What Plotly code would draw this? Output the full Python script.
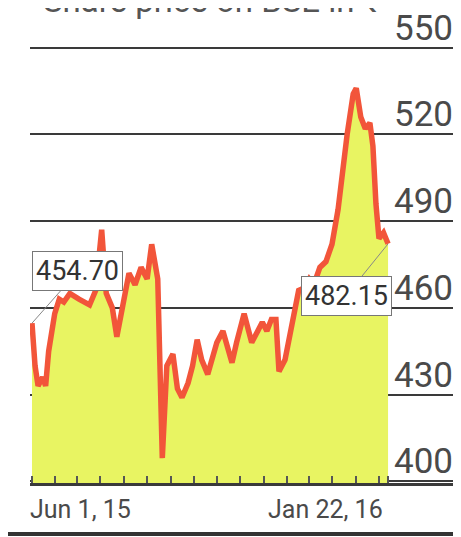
import plotly.graph_objects as go

# ---- data ----
dates = [
    "2015-06-01", "2015-06-03", "2015-06-05", "2015-06-08", "2015-06-10", "2015-06-12",
    "2015-06-16", "2015-06-19", "2015-06-22", "2015-06-26", "2015-07-02", "2015-07-09",
    "2015-07-13", "2015-07-17", "2015-07-20", "2015-07-24", "2015-07-27", "2015-07-31",
    "2015-08-04", "2015-08-08", "2015-08-12", "2015-08-16", "2015-08-19", "2015-08-23",
    "2015-08-26", "2015-08-29", "2015-09-02", "2015-09-05", "2015-09-08", "2015-09-12",
    "2015-09-15", "2015-09-18", "2015-09-21", "2015-09-25", "2015-09-28", "2015-10-01",
    "2015-10-05", "2015-10-08", "2015-10-11", "2015-10-14", "2015-10-19", "2015-10-22",
    "2015-10-24", "2015-10-28", "2015-10-31", "2015-11-03", "2015-11-06", "2015-11-09",
    "2015-11-11", "2015-11-15", "2015-11-18", "2015-11-21", "2015-11-24", "2015-11-28",
    "2015-12-01", "2015-12-04", "2015-12-08", "2015-12-12", "2015-12-16", "2015-12-20",
    "2015-12-23", "2015-12-26", "2015-12-30", "2016-01-01", "2016-01-04", "2016-01-07",
    "2016-01-10", "2016-01-12", "2016-01-14", "2016-01-16", "2016-01-19", "2016-01-22",
]
prices = [
    454.70, 440, 433, 436, 433, 445,
    458, 463, 462, 465, 463, 461,
    466, 487, 465, 460, 450, 462,
    472, 468, 474, 470, 482, 470,
    408, 440, 444, 432, 429, 434,
    440, 449, 442, 437, 442, 448,
    452, 446, 441, 448, 458, 452,
    448, 452, 455, 452, 456, 456,
    438, 442, 450, 458, 466, 467,
    470, 468, 474, 476, 482, 494,
    508, 520, 534, 536, 526, 522,
    524, 516, 496, 484, 486, 482.15,
]
y_ticks = [400, 430, 460, 490, 520, 550]
x_minor_ticks = [
    "2015-06-01", "2015-06-16", "2015-07-01", "2015-07-16", "2015-08-01", "2015-08-16",
    "2015-09-01", "2015-09-16", "2015-10-01", "2015-10-16", "2015-11-01", "2015-11-16",
    "2015-12-01", "2015-12-16", "2016-01-01", "2016-01-16", "2016-01-22",
]
x_labels = ["Jun 1, 15", "Jan 22, 16"]
title_text = "Share price on BSE in ₹"

FONT = "Roboto, sans-serif"
LINE = "#f2553a"
FILL = "#e8f462"
GRID = "#3a3a3a"
TXT = "#4a4a4a"

fig = go.Figure()
fig.add_trace(go.Scatter(
    x=dates, y=prices, mode="lines",
    line=dict(color=LINE, width=5.5),
    fill="tozeroy", fillcolor=FILL,
    hoverinfo="skip",
))

fig.update_layout(
    width=453, height=529,
    margin=dict(l=22, r=4, t=38, b=54, autoexpand=False),
    paper_bgcolor="white", plot_bgcolor="white",
    showlegend=False,
    font=dict(family=FONT, color=TXT),
)
fig.update_xaxes(
    type="date", automargin=False,
    range=["2015-05-30 16:24", "2016-03-07 12:00"],
    showgrid=False, zeroline=False,
    showticklabels=False,
    showline=True, linecolor=GRID, linewidth=3,
    ticks="",
    minor=dict(tickvals=x_minor_ticks, ticks="inside", ticklen=7,
               tickwidth=2, tickcolor="#555", showgrid=False),
)
fig.update_yaxes(
    automargin=False,
    range=[399.4, 550.6],
    tickvals=y_ticks,
    showticklabels=False,
    showgrid=True, gridcolor=GRID, gridwidth=2,
    zeroline=False, showline=False, ticks="",
)

# y labels sitting on top of the gridlines, right-aligned
for v in y_ticks:
    fig.add_annotation(x=0.995, y=v, xref="paper", yref="y", text=str(v),
                       showarrow=False, xanchor="right", yanchor="bottom", yshift=-3,
                       font=dict(family=FONT, size=35, color=TXT))

# x labels
fig.add_annotation(x=x_minor_ticks[0], y=0, xref="x", yref="paper",
                   text=x_labels[0], showarrow=False, xanchor="left", yanchor="top",
                   xshift=-4, yshift=-10, font=dict(family=FONT, size=25, color=TXT))
fig.add_annotation(x=x_minor_ticks[-1], y=0, xref="x", yref="paper",
                   text=x_labels[1], showarrow=False, xanchor="right", yanchor="top",
                   xshift=-3, yshift=-10, font=dict(family=FONT, size=25, color=TXT))

# value call-outs
fig.add_annotation(x=dates[0], y=prices[0], xref="x", yref="y",
                   text=f"{prices[0]:.2f}", showarrow=True, arrowhead=0,
                   arrowcolor="#888", arrowwidth=1, ax=46, ay=-52,
                   bgcolor="white", bordercolor="#777", borderwidth=1, borderpad=3,
                   font=dict(family=FONT, size=27, color="#333"))
fig.add_annotation(x=dates[-1], y=prices[-1], xref="x", yref="y",
                   text=f"{prices[-1]:.2f}", showarrow=True, arrowhead=0,
                   arrowcolor="#888", arrowwidth=1, ax=-42, ay=52,
                   bgcolor="white", bordercolor="#777", borderwidth=1, borderpad=3,
                   font=dict(family=FONT, size=27, color="#333"))

# cut-off title at the top
fig.add_annotation(x=0.025, y=1.105, xref="paper", yref="paper",
                   text=title_text, showarrow=False, xanchor="left", yanchor="middle",
                   font=dict(family=FONT, size=33, color="#555"))

# bottom frame rule
fig.add_shape(type="line", xref="paper", yref="paper", x0=-0.1, x1=1.1,
              y0=-0.1167, y1=-0.1167, line=dict(color="#333", width=4))

fig.write_html("out.html")
